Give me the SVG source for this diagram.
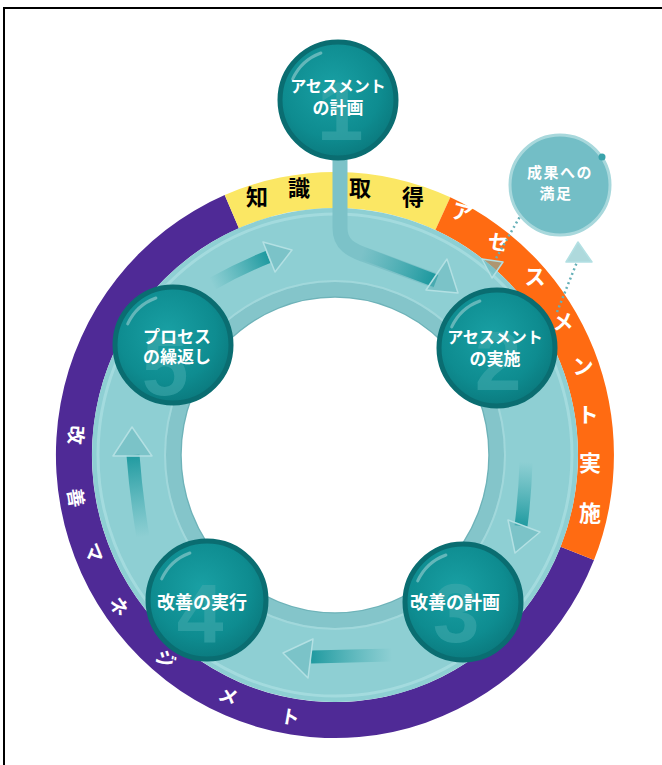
<svg xmlns="http://www.w3.org/2000/svg" width="662" height="765" viewBox="0 0 662 765">
<defs>
<style>
.jp{font-family:"Noto Sans CJK JP","Noto Sans CJK SC",sans-serif;font-weight:bold}
.lbl{fill:#ffffff;text-anchor:middle}
.num{font-family:"Liberation Sans",Arial,sans-serif;font-weight:bold;font-size:84px;fill:#3fa9ac;fill-opacity:.6;text-anchor:middle}
.node{fill:url(#ng);stroke:#0a6d71;stroke-width:5}
.hl{fill:none;stroke:#ffffff;stroke-opacity:.35;stroke-width:3;stroke-linecap:round}
.ah{fill:#6cbac0;fill-opacity:.55;stroke:#b3e0e3;stroke-width:1.5;stroke-linejoin:round}
.sh{fill:none;stroke-width:13;stroke-linecap:butt}
.dot{fill:none;stroke:#66b0b8;stroke-width:2.5;stroke-dasharray:2 3}
.band-y{fill:#000000;font-size:22px;text-anchor:middle}
.band-w{fill:#ffffff;font-size:21px;text-anchor:middle}
.band-p{fill:#ffffff;font-size:19px;text-anchor:middle}
</style>
<radialGradient id="ng" cx="45%" cy="40%" r="60%">
<stop offset="0" stop-color="#19a0a4"/>
<stop offset="0.7" stop-color="#0e8c90"/>
<stop offset="1" stop-color="#0b7b7f"/>
</radialGradient>
<linearGradient id="g1" gradientUnits="userSpaceOnUse" x1="212" y1="284" x2="268" y2="257"><stop offset="0" stop-color="#2aa0a6" stop-opacity="0"/><stop offset="1" stop-color="#13949a" stop-opacity=".9"/></linearGradient>
<linearGradient id="g2" gradientUnits="userSpaceOnUse" x1="362" y1="253" x2="436" y2="281"><stop offset="0" stop-color="#2aa0a6" stop-opacity="0"/><stop offset="1" stop-color="#13949a" stop-opacity=".95"/></linearGradient>
<linearGradient id="g3" gradientUnits="userSpaceOnUse" x1="526" y1="462" x2="521" y2="526"><stop offset="0" stop-color="#2aa0a6" stop-opacity="0"/><stop offset="1" stop-color="#13949a" stop-opacity=".9"/></linearGradient>
<linearGradient id="g4" gradientUnits="userSpaceOnUse" x1="392" y1="655" x2="311" y2="657"><stop offset="0" stop-color="#2aa0a6" stop-opacity="0"/><stop offset="1" stop-color="#13949a" stop-opacity=".9"/></linearGradient>
<linearGradient id="g5" gradientUnits="userSpaceOnUse" x1="143" y1="537" x2="133" y2="455"><stop offset="0" stop-color="#2aa0a6" stop-opacity="0"/><stop offset="1" stop-color="#13949a" stop-opacity=".9"/></linearGradient>
</defs>
<rect width="662" height="765" fill="#ffffff"/>
<path d="M4,770 V8 H662" fill="none" stroke="#000000" stroke-width="2"/>

<g id="ring">
<path d="M594,560.1 A279 283 0 1 1 224.7,195.1 L238.9,228.2 A243 247 0 1 0 560.6,546.7 Z" fill="#4f2a96"/>
<path d="M224.7,195.1 A279 283 0 0 1 450.3,197.3 L435.4,230.1 A243 247 0 0 0 238.9,228.2 Z" fill="#fbe764"/>
<path d="M450.3,197.3 A279 283 0 0 1 594,560.1 L560.6,546.7 A243 247 0 0 0 435.4,230.1 Z" fill="#ff6b12"/>
<path d="M92,455 A243 247 0 1 1 578,455 A243 247 0 1 1 92,455 Z M181,455 A154 158 0 1 0 489,455 A154 158 0 1 0 181,455 Z" fill="#8ecfd3" fill-rule="evenodd"/>
<ellipse cx="335" cy="455" rx="237" ry="241" fill="none" stroke="#acdfe2" stroke-width="3" stroke-opacity=".7"/>
<ellipse cx="335" cy="455" rx="162" ry="166" fill="none" stroke="#84c5ca" stroke-width="14"/>
<ellipse cx="335" cy="455" rx="170" ry="174" fill="none" stroke="#a6dadd" stroke-width="2" stroke-opacity=".8"/>
<ellipse cx="335" cy="455" rx="154" ry="158" fill="none" stroke="#6fb3b9" stroke-width="1.5"/>
</g>

<g id="band-labels" class="jp">
<text class="band-y" x="257" y="205">知</text>
<text class="band-y" x="299" y="196">識</text>
<text class="band-y" x="360" y="196">取</text>
<text class="band-y" x="413" y="205">得</text>
<text class="band-w" x="462" y="220" transform="rotate(15 462 213)">ア</text>
<text class="band-w" x="498" y="250" transform="rotate(10 498 243)">セ</text>
<text class="band-w" x="535" y="284">ス</text>
<text class="band-w" x="563" y="329">メ</text>
<text class="band-w" x="583" y="374">ン</text>
<text class="band-w" x="588" y="422">ト</text>
<text class="band-w" x="590" y="471" style="font-size:22px">実</text>
<text class="band-w" x="590" y="521" style="font-size:22px">施</text>
<text class="band-p" x="75" y="441" transform="rotate(94 75 435)">改</text>
<text class="band-p" x="75" y="504" transform="rotate(81 75 498)">善</text>
<text class="band-p" x="93" y="559" transform="rotate(68 93 553)">マ</text>
<text class="band-p" x="118" y="613" transform="rotate(55 118 607)">ネ</text>
<text class="band-p" x="165" y="666" transform="rotate(40 165 660)">ジ</text>
<text class="band-p" x="228" y="703" transform="rotate(24 228 697)">メ</text>
<text class="band-p" x="290" y="724" transform="rotate(10 290 718)">ト</text>
</g>

<g id="connectors">
<path d="M340,158 V228 C340,244 350,250 368,256 L436,281" fill="none" stroke="#7cc2c8" stroke-width="15"/>
<path d="M362,253 L436,281" class="sh" stroke="url(#g2)"/>
<polygon class="ah" points="447,259 458,293 426,290"/>
<path d="M212,284 Q240,268 268,257" class="sh" stroke="url(#g1)"/>
<polygon class="ah" points="263,242 292,250 275,272"/>
<path d="M526,462 Q525,495 521,526" class="sh" stroke="url(#g3)"/>
<polygon class="ah" points="508,520 540,532 515,553"/>
<path d="M392,655 L311,657" class="sh" stroke="url(#g4)" stroke-width="14"/>
<polygon class="ah" points="313,639 283,653 308,678"/>
<path d="M143,537 Q136,495 133,455" class="sh" stroke="url(#g5)"/>
<polygon class="ah" points="113,456 132,427 152,456"/>
<path d="M522,213 L495,260" class="dot"/>
<polygon class="ah" points="482,259 503,262 492,278"/>
<path d="M557,312 L577,262" class="dot"/>
<polygon class="ah" points="566,262 592,262 578,242"/>
</g>

<g id="node1" transform="translate(338,100)">
<circle r="58" class="node"/>
<path d="M-45.3,-21.1 A50,50 0 0 1 -17.1,-47" class="hl"/>
<text class="num" x="2" y="40">1</text>
<text class="jp lbl" x="0" y="-8" font-size="16">アセスメント</text>
<text class="jp lbl" x="0" y="14" font-size="17">の計画</text>
</g>
<g id="node2" transform="translate(497,348)">
<circle r="58" class="node"/>
<path d="M-45.3,-21.1 A50,50 0 0 1 -17.1,-47" class="hl"/>
<text class="num" x="1" y="42">2</text>
<text class="jp lbl" x="-2" y="-5" font-size="16">アセスメント</text>
<text class="jp lbl" x="-2" y="17" font-size="17">の実施</text>
</g>
<g id="node3" transform="translate(463,602)">
<circle r="58" class="node"/>
<path d="M-45.3,-21.1 A50,50 0 0 1 -17.1,-47" class="hl"/>
<text class="num" x="-7" y="40">3</text>
<text class="jp lbl" x="-8" y="7" font-size="18">改善の計画</text>
</g>
<g id="node4" transform="translate(207,600)">
<circle r="59" class="node"/>
<path d="M-45.3,-21.1 A50,50 0 0 1 -17.1,-47" class="hl"/>
<text class="num" x="-7" y="43">4</text>
<text class="jp lbl" x="-5" y="9" font-size="18">改善の実行</text>
</g>
<g id="node5" transform="translate(173,345)">
<circle r="58" class="node"/>
<path d="M-45.3,-21.1 A50,50 0 0 1 -17.1,-47" class="hl"/>
<text class="num" x="-8" y="50">5</text>
<text class="jp lbl" x="4" y="-2" font-size="17">プロセス</text>
<text class="jp lbl" x="4" y="18" font-size="17">の繰返し</text>
</g>
<g id="satisfaction">
<circle cx="560" cy="185" r="50" fill="#73bec6" stroke="#a8d8dc" stroke-width="3"/>
<circle cx="602" cy="157" r="3.5" fill="#3aa3ab"/>
<text class="jp lbl" x="560" y="178" font-size="15" letter-spacing="1.5">成果への</text>
<text class="jp lbl" x="556" y="199" font-size="15" letter-spacing="1.5">満足</text>
</g>
</svg>
